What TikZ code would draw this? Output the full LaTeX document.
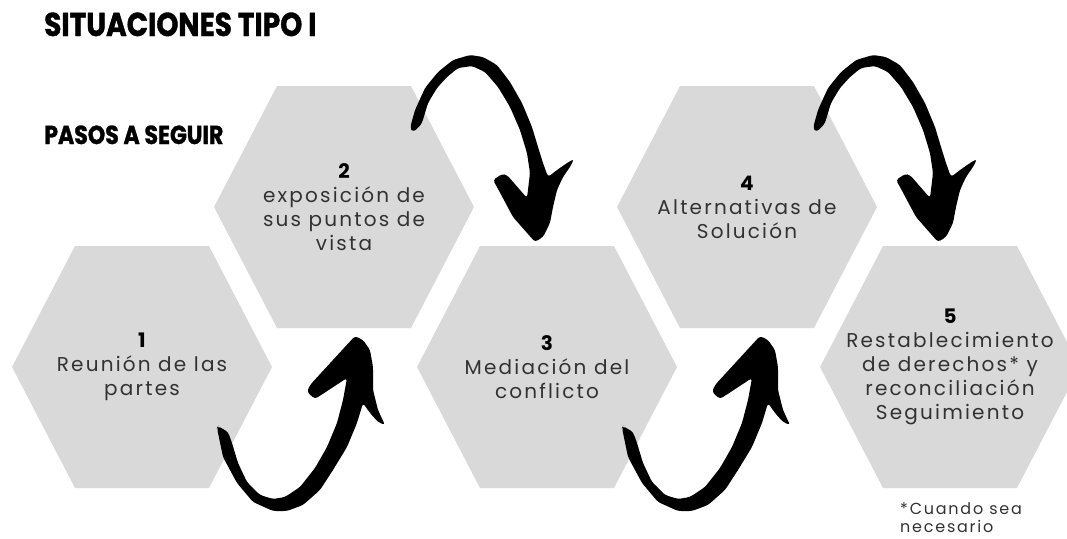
\documentclass[tikz,border=0pt]{standalone}
\usepackage{fontspec}
\setmainfont{Poppins}
\newfontfamily\hexfont[LetterSpace=11]{Poppins}
\newfontfamily\titlefont[FakeStretch=0.85, BoldFeatures={FakeBold=1.2}]{Poppins}

\definecolor{hexgray}{RGB}{217,217,217}
\definecolor{hextext}{RGB}{50,50,50}

\newcommand{\stepnum}[1]{\textbf{\color{black}#1}}

\tikzset{
  hexlabel/.style={align=center, text=hextext, font=\hexfont\fontsize{20}{24}\selectfont},
  heading/.style={anchor=base west, inner sep=0pt},
  % brush arrow going up, placed at the centre of the hexagon it leaves
  arrowup/.pic={
    \fill[rounded corners=3pt] (75,61) -- (81,90) -- (95,116) -- (111,135) -- (131,144) -- (145,144)
      -- (161,138) -- (178,123) -- (191,103) -- (205,80) -- (215,56) -- (221,36)
      -- (228,46) -- (236,55) -- (243,58) -- (236,43) -- (231,23) -- (231,0) -- (228,-17)
      -- (221,-27) -- (213,-31) -- (168,18) -- (165,25) -- (173,32) -- (205,11)
      -- (201,33) -- (195,56) -- (185,80) -- (173,101) -- (158,120) -- (143,130)
      -- (131,132) -- (118,128) -- (105,115) -- (96,96) -- (90,76) -- (86,65) -- (76,59) -- cycle;
  },
  % brush arrow going over the top and down
  arrowdown/.pic={
    \fill[rounded corners=3pt] (66,-79) -- (71,-97) -- (81,-119) -- (94,-135) -- (109,-147) -- (126,-152)
      -- (139,-150) -- (153,-142) -- (166,-125) -- (178,-104) -- (188,-80) -- (194,-60)
      -- (199,-44) -- (204,-30) -- (213,-37) -- (223,-44) -- (230,-48) -- (226,-40)
      -- (219,-30) -- (213,-17) -- (209,0) -- (206,16) -- (199,30) -- (191,35)
      -- (169,10) -- (153,-20) -- (149,-27) -- (158,-33) -- (163,-32) -- (183,-9)
      -- (186,-34) -- (183,-54) -- (176,-77) -- (166,-100) -- (154,-120) -- (141,-135)
      -- (128,-141) -- (114,-139) -- (103,-130) -- (93,-119) -- (84,-104) -- (78,-84)
      -- (74,-79) -- (69,-75) -- cycle;
  }
}

\begin{document}
\begin{tikzpicture}[x=1pt,y=-1pt]
  \useasboundingbox (0,0) rectangle (1067,538);

  % Define hexagon size
  \def\hexR{130}
  \def\hexE{67}
  \def\hexH{121}

  % Draw hexagons
  \foreach \x/\y [count=\i] in {142/367, 344/207, 547/367, 747/207, 950/367} {
    \coordinate (c\i) at (\x,\y);
    \fill[hexgray, shift={(\x,\y)}] (-\hexR,0) -- (-\hexE,-\hexH) -- (\hexE,-\hexH)
      -- (\hexR,0) -- (\hexE,\hexH) -- (-\hexE,\hexH) -- cycle;
  }

  % Headings
  \node[heading, font=\titlefont\bfseries\fontsize{33}{33}\selectfont] (title) at (44,36) {SITUACIONES TIPO I};
  \node[heading, font=\titlefont\bfseries\fontsize{26}{26}\selectfont] (subtitle) at (44,144) {PASOS A SEGUIR};

  % Steps
  \node[hexlabel] (h1) at (c1) {\stepnum{1}\\Reunión de las\\partes};
  \node[hexlabel] (h2) at (c2) {\stepnum{2}\\exposición de\\sus puntos de\\vista};
  \node[hexlabel] (h3) at (c3) {\stepnum{3}\\Mediación del\\conflicto};
  \node[hexlabel] (h4) at (c4) {\stepnum{4}\\Alternativas de\\Solución};
  \node[hexlabel] (h5) at (c5) {\stepnum{5}\\Restablecimiento\\de derechos* y\\reconciliación\\Seguimiento};

  % Note under step 5
  \node[anchor=north west, inner sep=0pt, align=left, text=hextext,
    font=\hexfont\fontsize{16}{18}\selectfont] (nota) at (900,502) {*Cuando sea\\necesario};

  % Arrows between steps
  \pic at (c1) {arrowup};
  \pic at (c2) {arrowdown};
  \pic at (c3) {arrowup};
  \pic at (c4) {arrowdown};
\end{tikzpicture}
\end{document}
